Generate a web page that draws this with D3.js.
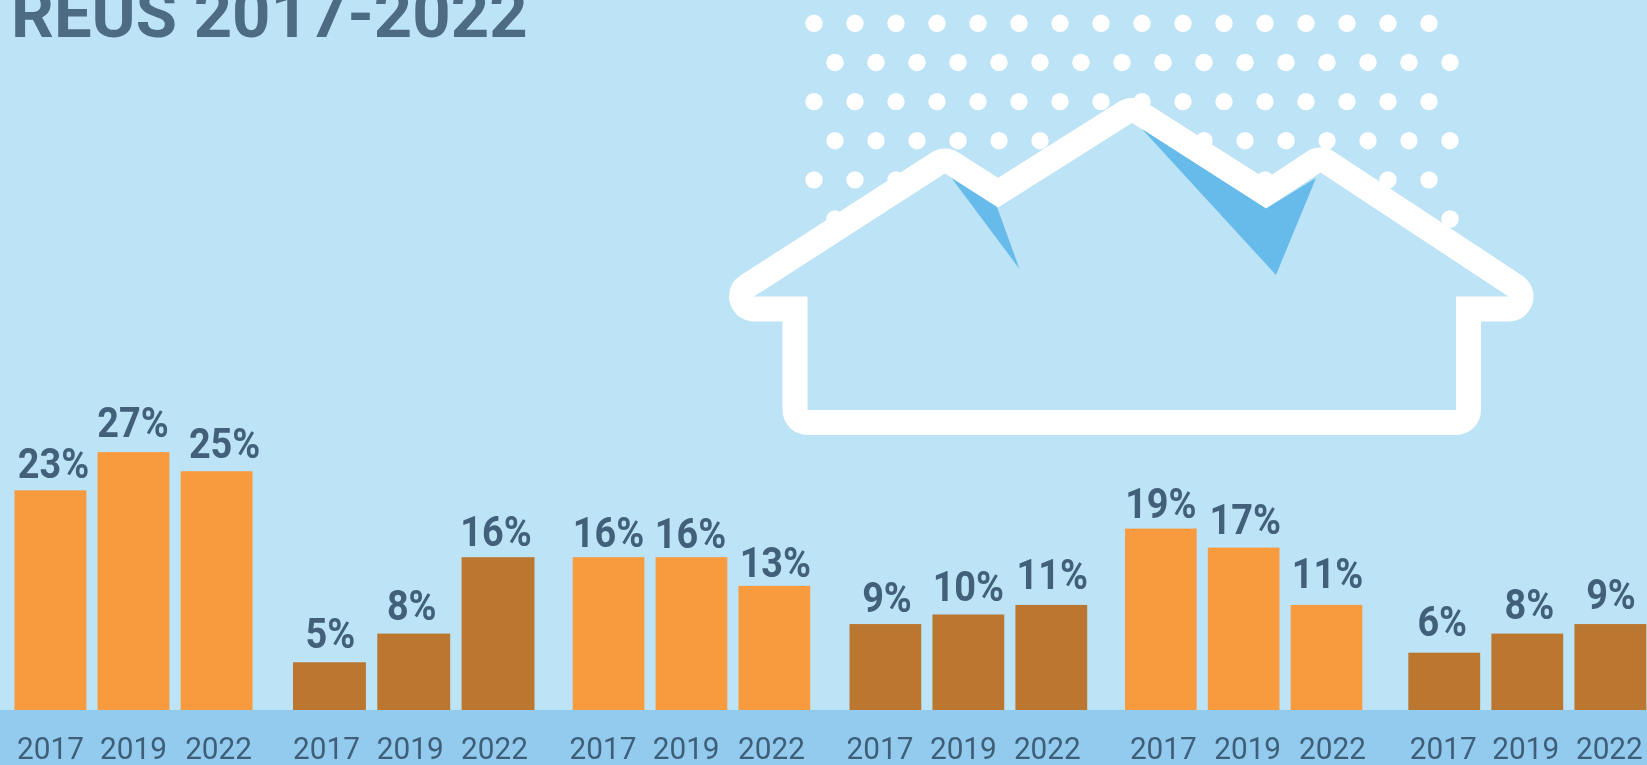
<!DOCTYPE html>
<html>
<head>
<meta charset="utf-8">
<script src="https://cdnjs.cloudflare.com/ajax/libs/d3/7.8.5/d3.min.js"></script>
<style>
html,body{margin:0;padding:0;background:#bde3f6;overflow:hidden}
svg{display:block;filter:blur(0.6px)}
text{font-family:Roboto,sans-serif}
</style>
</head>
<body>
<div id="chart"></div>
<script>
// ---- data ----
const titleText = "REUS 2017-2022";
const years = ["2017", "2019", "2022"];
const groups = ["g1", "g2", "g3", "g4", "g5", "g6"];
const g1Values = [23, 27, 25];
const g2Values = [5, 8, 16];
const g3Values = [16, 16, 13];
const g4Values = [9, 10, 11];
const g5Values = [19, 17, 11];
const g6Values = [6, 8, 9];
const groupValues = [g1Values, g2Values, g3Values, g4Values, g5Values, g6Values];

// ---- layout ----
const W = 1647, H = 765, baseY = 710, pxPerPct = 9.55;
const groupLefts = [14.5, 293, 572.7, 849.5, 1125, 1408.3];
const groupWidths = [238, 241.5, 237.5, 237.7, 237.3, 238];
const colors = ["#f89a3e", "#bb7730", "#f89a3e", "#bb7730", "#f89a3e", "#bb7730"];
const yearShift = [[0,0,2],[-3,-3.5,-3.5],[-5.5,-5.3,-2.8],[-5.4,-5,-4],[2.5,4,6],[-1,-1.5,-1]];
const labelShift = [[3,-0.5,8],[1,-2,-2],[0,-1,1],[1.6,0,1],[0,1.5,1],[-2,2,0.6]];
const labelGap = [[12,14.7,13.4],[14.5,14,11.6],[10,9.6,9],[12,13.3,15.7],[11,14,17],[16.5,14.7,15]];

const svg = d3.select("#chart").append("svg").attr("width", W).attr("height", H);
svg.append("rect").attr("width", W).attr("height", H).attr("fill", "#bde3f6");

// title
svg.append("text").attr("x", 11).attr("y", 37).attr("font-size", 67).attr("font-weight", 700)
  .attr("fill", "#4d6b82").text(titleText);

// dots behind the house
const dotCols = d3.range(16), dotRows = d3.range(6);
const dotX = d3.scaleLinear().domain([0, 15]).range([814, 1429]);
const dotY = d3.scaleLinear().domain([0, 5]).range([23.3, 219]);
svg.append("g").attr("fill", "#fff").selectAll("circle")
  .data(d3.cross(dotRows, dotCols)).join("circle")
  .attr("cx", d => dotX(d[1]) + (d[0] % 2 ? 21 : 0))
  .attr("cy", d => dotY(d[0]))
  .attr("r", 8.7);

// house
const houseOutline = [[807.5,410],[807.5,296.5],[754,296.5],[945,173.5],[998,207.5],[1132,123],[1266,208.5],[1320.5,172.5],[1508.5,296.5],[1456,296.5],[1456,410]];
const poly = d3.line().curve(d3.curveLinearClosed);
svg.append("path").attr("d", poly(houseOutline))
  .attr("fill", "#bde3f6").attr("stroke", "#fff").attr("stroke-width", 50)
  .attr("stroke-linejoin", "round").style("paint-order", "stroke");
const shards = [
  [[951.5,178],[997,207],[1019.5,269]],
  [[1142,129],[1266,208.5],[1316,178],[1276,275]]
];
svg.append("g").attr("fill", "#66bbea").selectAll("path").data(shards).join("path").attr("d", poly);

// floor band
svg.append("rect").attr("x", 0).attr("y", baseY).attr("width", W).attr("height", H - baseY).attr("fill", "#93cbef");

// scales
const groupX = d3.scaleOrdinal(groups, groupLefts);
const y = d3.scaleLinear().domain([0, 1]).range([baseY, baseY - pxPerPct]);

groups.forEach((gName, gi) => {
  const vals = groupValues[gi];
  const yearX = d3.scaleBand().domain(years).range([0, groupWidths[gi]]).paddingInner(0.135);
  const g = svg.append("g").attr("transform", `translate(${groupX(gName)},0)`);
  g.selectAll("rect").data(vals).join("rect")
    .attr("x", (d, i) => yearX(years[i]))
    .attr("width", yearX.bandwidth())
    .attr("y", d => y(d))
    .attr("height", d => y(0) - y(d))
    .attr("fill", colors[gi]);
  g.selectAll("text.val").data(vals).join("text").attr("class", "val")
    .attr("transform", (d, i) => `translate(${yearX(years[i]) + yearX.bandwidth() / 2 + labelShift[gi][i]},${y(d) - labelGap[gi][i]}) scale(0.88,1)`)
    .attr("text-anchor", "middle").attr("font-size", 43).attr("font-weight", 700)
    .attr("fill", "#42607a").text(d => d + "%");
  const axis = d3.axisBottom(yearX).tickSize(0).tickPadding(0);
  const ax = g.append("g").attr("transform", `translate(0,${baseY})`).call(axis);
  ax.select(".domain").remove();
  ax.selectAll("text").attr("y", 0).attr("dy", 0)
    .attr("transform", (d, i) => `translate(${yearShift[gi][i]},49) scale(0.96,1)`)
    .attr("font-size", 31).attr("font-family", "Roboto, sans-serif").attr("fill", "#3f5f78");
});
</script>
</body>
</html>
